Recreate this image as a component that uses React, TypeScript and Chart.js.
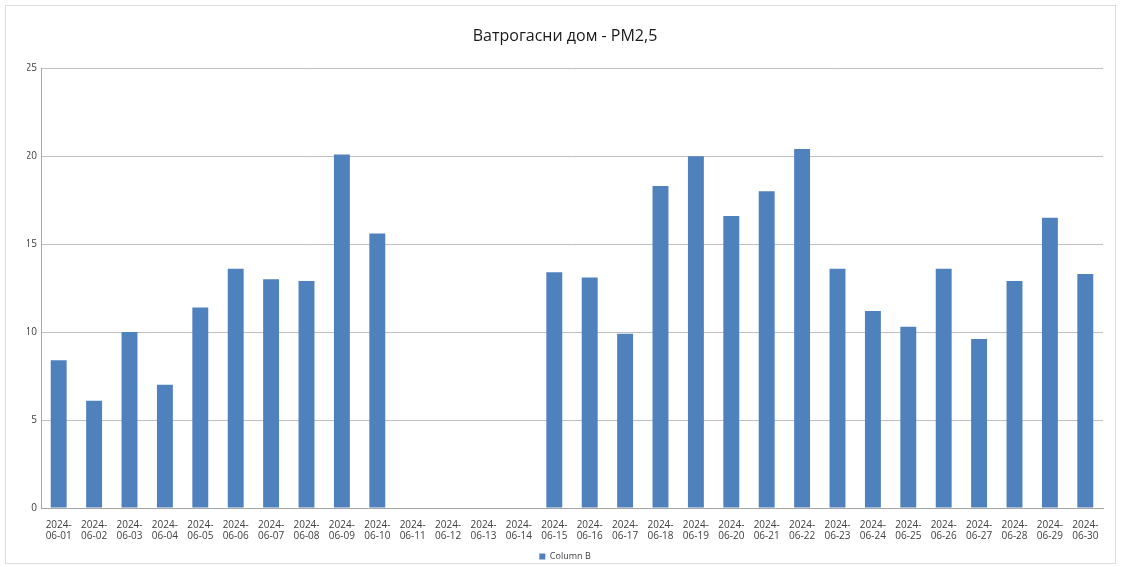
import React, { useEffect, useRef } from "react";
import { Chart, registerables } from "chart.js";

Chart.register(...registerables);

const chartTitle = "Ватрогасни дом - PM2,5";
const seriesName = "Column B";
const days = [
  "01", "02", "03", "04", "05", "06", "07", "08", "09", "10",
  "11", "12", "13", "14", "15", "16", "17", "18", "19", "20",
  "21", "22", "23", "24", "25", "26", "27", "28", "29", "30",
];
const categories = days.map((d) => ["2024-", "06-" + d]);
const values: (number | null)[] = [
  8.4, 6.1, 10.0, 7.0, 11.4, 13.6, 13.0, 12.9, 20.1, 15.6,
  null, null, null, null, 13.4, 13.1, 9.9, 18.3, 20.0, 16.6,
  18.0, 20.4, 13.6, 11.2, 10.3, 13.6, 9.6, 12.9, 16.5, 13.3,
];
const yMin = 0;
const yMax = 25;
const yStep = 5;

export default function App() {
  const ref = useRef<HTMLCanvasElement | null>(null);

  useEffect(() => {
    if (!ref.current) return;
    const chart = new Chart(ref.current, {
      type: "bar",
      data: {
        labels: categories,
        datasets: [
          {
            label: seriesName,
            data: values,
            backgroundColor: "#4f81bd",
            borderWidth: 0,
            barPercentage: 0.45,
            categoryPercentage: 1,
          },
        ],
      },
      options: {
        animation: false,
        responsive: false,
        maintainAspectRatio: false,
        layout: { padding: { left: 27, right: 18, top: 0, bottom: -4 } },
        plugins: {
          title: {
            display: true,
            text: chartTitle,
            color: "#1a1a1a",
            font: { family: "'Open Sans', sans-serif", size: 16, weight: "normal" },
            padding: { top: 27, bottom: 22 },
          },
          legend: {
            display: true,
            position: "bottom",
            labels: {
              boxWidth: 6,
              boxHeight: 6,
              color: "#404040",
              font: { family: "'Open Sans', sans-serif", size: 9 },
              padding: 4,
            },
          },
          tooltip: { enabled: false },
        },
        scales: {
          x: {
            grid: { display: false },
            border: { display: true, color: "#a6a6a6", width: 1 },
            ticks: {
              autoSkip: false,
              maxRotation: 0,
              minRotation: 0,
              color: "#404040",
              padding: 3,
              font: { family: "'Open Sans', sans-serif", size: 10, lineHeight: 1.15 },
            },
            afterFit: (s: any) => {
              s.height = 40;
            },
          },
          y: {
            min: yMin,
            max: yMax,
            ticks: {
              stepSize: yStep,
              color: "#404040",
              padding: 4,
              font: { family: "'Open Sans', sans-serif", size: 10 },
            },
            grid: { color: "#bfbfbf", drawTicks: false, lineWidth: 1 },
            border: { display: true, color: "#a6a6a6", width: 1 },
            afterFit: (s: any) => {
              s.width = 14;
            },
          },
        },
      },
    });
    return () => chart.destroy();
  }, []);

  return (
    <div style={{ position: "absolute", left: 0, top: 0, width: 1121, height: 567, background: "#fff" }}>
      <div
        style={{
          position: "absolute",
          left: 5,
          top: 5,
          width: 1111,
          height: 559,
          border: "1px solid #dcdcdc",
          boxSizing: "border-box",
        }}
      />
      <canvas ref={ref} width={1121} height={567} style={{ position: "absolute", left: 0, top: 0 }} />
    </div>
  );
}
